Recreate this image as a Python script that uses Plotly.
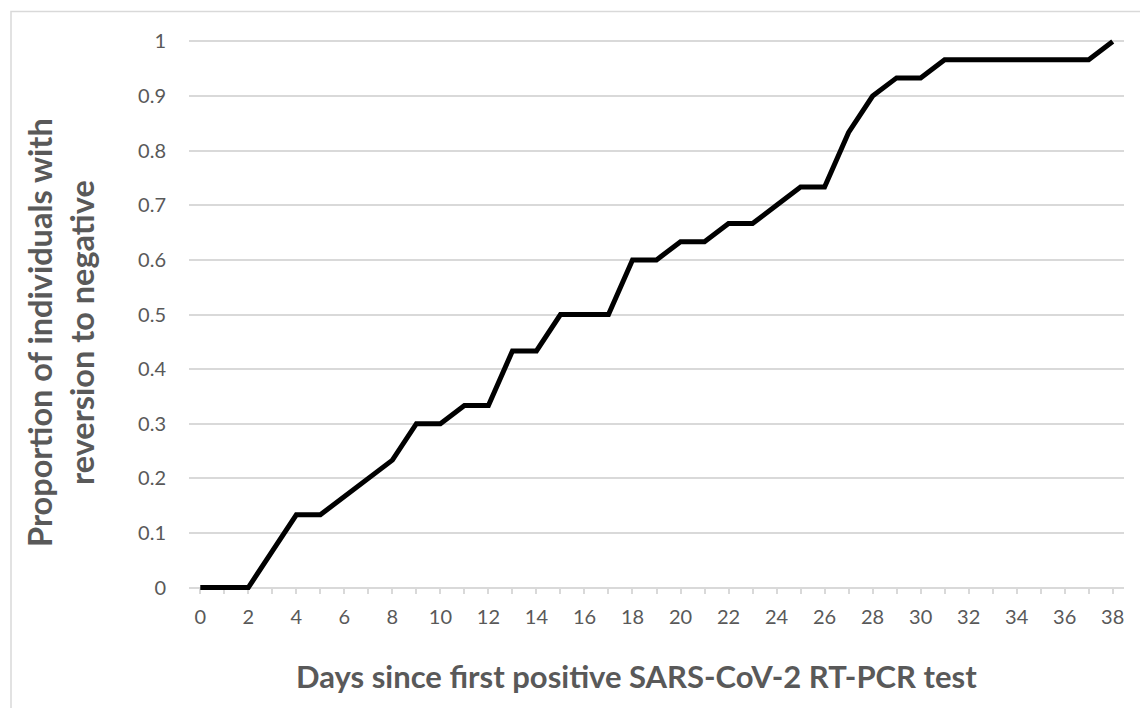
import plotly.graph_objects as go

days = list(range(0, 39))
proportion = [0, 0, 0, 0.0667, 0.1333, 0.1333, 0.1667, 0.2, 0.2333, 0.3,
              0.3, 0.3333, 0.3333, 0.4333, 0.4333, 0.5, 0.5, 0.5, 0.6, 0.6,
              0.6333, 0.6333, 0.6667, 0.6667, 0.7, 0.7333, 0.7333, 0.8333, 0.9, 0.9333,
              0.9333, 0.9667, 0.9667, 0.9667, 0.9667, 0.9667, 0.9667, 0.9667, 1.0]
x_tick_vals = list(range(0, 39, 2))
y_tick_vals = [0, 0.1, 0.2, 0.3, 0.4, 0.5, 0.6, 0.7, 0.8, 0.9, 1]
y_tick_text = ["0", "0.1", "0.2", "0.3", "0.4", "0.5", "0.6", "0.7", "0.8", "0.9", "1"]
x_title = "Days since first positive SARS-CoV-2 RT-PCR test"
y_title = "Proportion of individuals with<br>reversion to negative"

FONT = "Lato"
GREY = "#595959"
GRID = "#d9d9d9"

L, R, T, B = 189, 16, 35.5, 114.5
W, H = 1140, 708
pw = W - L - R
ph = H - T - B
pad = 0.01

fig = go.Figure()
fig.add_trace(go.Scatter(x=days, y=proportion, mode="lines",
                         line=dict(color="black", width=5),
                         hoverinfo="x+y", showlegend=False))

fig.update_layout(
    width=W, height=H,
    margin=dict(l=L, r=R, t=T, b=B, pad=0, autoexpand=False),
    paper_bgcolor="white", plot_bgcolor="white",
    font=dict(family=FONT, color=GREY),
    xaxis=dict(range=[-0.47, 38.47], tickvals=x_tick_vals,
               ticktext=[str(v) for v in x_tick_vals],
               showgrid=False, zeroline=False,
               showline=True, linecolor=GRID, linewidth=1.5,
               anchor="free", position=pad / (1 + 2 * pad),
               layer="below traces",
               ticks="outside", ticklen=6, tickcolor=GRID, tickwidth=1.5,
               minor=dict(dtick=1, ticks="outside", ticklen=6, tickcolor=GRID, tickwidth=1.5),
               ticklabelstandoff=6,
               tickfont=dict(size=20, color=GREY, family=FONT)),
    yaxis=dict(range=[-pad, 1 + pad], tickvals=y_tick_vals, ticktext=y_tick_text,
               showgrid=True, gridcolor=GRID, gridwidth=1.5,
               zeroline=False, showline=False, ticks="",
               ticklabelstandoff=22, layer="below traces",
               tickfont=dict(size=20, color=GREY, family=FONT)),
)

fig.add_annotation(text="<b>" + x_title + "</b>", xref="paper", yref="paper",
                   x=(636 - L) / pw, y=(H - B - 677) / ph,
                   xanchor="center", yanchor="middle", showarrow=False,
                   font=dict(size=31, color=GREY, family=FONT))
fig.add_annotation(text="<b>" + y_title + "</b>", xref="paper", yref="paper",
                   x=(61 - L) / pw, y=(H - B - 333) / ph, textangle=-90,
                   xanchor="center", yanchor="middle", showarrow=False,
                   font=dict(size=32.5, color=GREY, family=FONT))

# chart frame
fig.add_shape(type="rect", xref="paper", yref="paper",
              x0=(11 - L) / pw, x1=(W + 20 - L) / pw,
              y0=(H - B - (H + 20)) / ph, y1=(H - B - 11) / ph,
              line=dict(color=GRID, width=1.5), fillcolor="rgba(0,0,0,0)", layer="below")

fig.write_html("out.html", config={"displayModeBar": False},
               post_script="document.body.style.margin='0px';document.body.style.overflow='hidden';")
